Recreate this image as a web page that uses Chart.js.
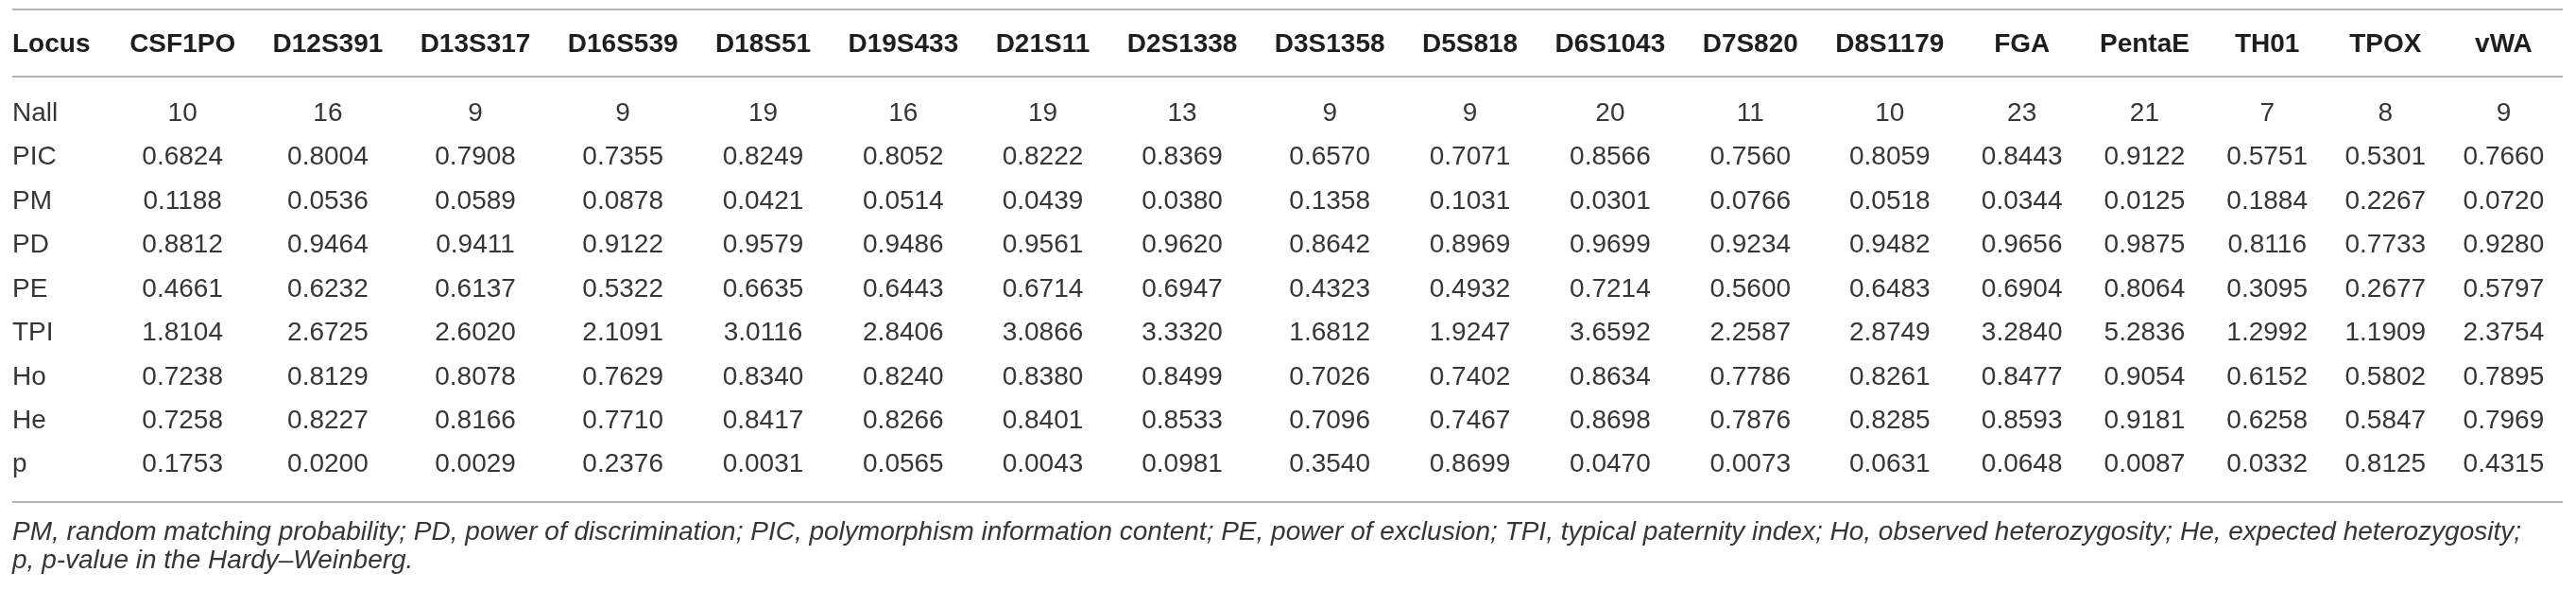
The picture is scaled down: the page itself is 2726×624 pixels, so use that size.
<!DOCTYPE html>
<html lang="en">
<head>
  <meta charset="UTF-8">
  <title>STR locus statistics</title>
  <script src="https://cdn.jsdelivr.net/npm/chart.js"></script>
</head>

<style>
  body {
    margin: 0;
    background: #ffffff;
  }

  .tabela {
    width: 2726px;
    height: 624px;
  }
</style>

<body>

  <div class="tabela">
    <canvas id="locusChart"></canvas>
  </div>

  <script>
    // Loci (columns) and statistics (rows)
    const loci = ['CSF1PO', 'D12S391', 'D13S317', 'D16S539', 'D18S51', 'D19S433', 'D21S11', 'D2S1338', 'D3S1358',
      'D5S818', 'D6S1043', 'D7S820', 'D8S1179', 'FGA', 'PentaE', 'TH01', 'TPOX', 'vWA'];
    const rowNames = ['Nall', 'PIC', 'PM', 'PD', 'PE', 'TPI', 'Ho', 'He', 'p'];

    const nall = [10, 16, 9, 9, 19, 16, 19, 13, 9, 9, 20, 11, 10, 23, 21, 7, 8, 9];
    const pic = [0.6824, 0.8004, 0.7908, 0.7355, 0.8249, 0.8052, 0.8222, 0.8369, 0.6570, 0.7071, 0.8566, 0.7560, 0.8059, 0.8443, 0.9122, 0.5751, 0.5301, 0.7660];
    const pm = [0.1188, 0.0536, 0.0589, 0.0878, 0.0421, 0.0514, 0.0439, 0.0380, 0.1358, 0.1031, 0.0301, 0.0766, 0.0518, 0.0344, 0.0125, 0.1884, 0.2267, 0.0720];
    const pd = [0.8812, 0.9464, 0.9411, 0.9122, 0.9579, 0.9486, 0.9561, 0.9620, 0.8642, 0.8969, 0.9699, 0.9234, 0.9482, 0.9656, 0.9875, 0.8116, 0.7733, 0.9280];
    const pe = [0.4661, 0.6232, 0.6137, 0.5322, 0.6635, 0.6443, 0.6714, 0.6947, 0.4323, 0.4932, 0.7214, 0.5600, 0.6483, 0.6904, 0.8064, 0.3095, 0.2677, 0.5797];
    const tpi = [1.8104, 2.6725, 2.6020, 2.1091, 3.0116, 2.8406, 3.0866, 3.3320, 1.6812, 1.9247, 3.6592, 2.2587, 2.8749, 3.2840, 5.2836, 1.2992, 1.1909, 2.3754];
    const ho = [0.7238, 0.8129, 0.8078, 0.7629, 0.8340, 0.8240, 0.8380, 0.8499, 0.7026, 0.7402, 0.8634, 0.7786, 0.8261, 0.8477, 0.9054, 0.6152, 0.5802, 0.7895];
    const he = [0.7258, 0.8227, 0.8166, 0.7710, 0.8417, 0.8266, 0.8401, 0.8533, 0.7096, 0.7467, 0.8698, 0.7876, 0.8285, 0.8593, 0.9181, 0.6258, 0.5847, 0.7969];
    const pValue = [0.1753, 0.0200, 0.0029, 0.2376, 0.0031, 0.0565, 0.0043, 0.0981, 0.3540, 0.8699, 0.0470, 0.0073, 0.0631, 0.0648, 0.0087, 0.0332, 0.8125, 0.4315];

    const rows = [nall, pic, pm, pd, pe, tpi, ho, he, pValue];

    const footnote = [
      'PM, random matching probability; PD, power of discrimination; PIC, polymorphism information content; PE, power of exclusion; TPI, typical paternity index; Ho, observed heterozygosity; He, expected heterozygosity;',
      'p, p-value in the Hardy\u2013Weinberg.'
    ];

    const FONT = '"Liberation Sans", Arial, Helvetica, sans-serif';
    const SIZE = 28;
    const corTexto = '#363636';
    const corCabecalho = '#1e1e1e';
    const corLinha = '#b4b4b4';

    function fmt(r, v) {
      return r === 0 ? String(v) : v.toFixed(4);
    }

    // Column widths as an auto table layout would do: widest text + padding
    const medidor = document.createElement('canvas').getContext('2d');
    function larguraTexto(txt, weight) {
      medidor.font = weight + ' ' + SIZE + 'px ' + FONT;
      return medidor.measureText(txt).width;
    }
    const colWidths = loci.map((l, j) => {
      let w = larguraTexto(l, 'bold');
      rows.forEach((vals, r) => { w = Math.max(w, larguraTexto(fmt(r, vals[j]), 'normal')); });
      return w + 40;
    });
    const locusWidth = larguraTexto('Locus', 'bold') + 22;

    // Category scale whose columns follow colWidths instead of equal steps
    class ColumnScale extends Chart.CategoryScale {
      getPixelForValue(value) {
        if (typeof value !== 'number') value = this.parse(value);
        if (value === null || value === undefined || isNaN(value)) return NaN;
        const total = colWidths.reduce((a, b) => a + b, 0);
        let acc = 0;
        for (let i = 0; i < value; i++) acc += colWidths[i];
        return this.left + (acc + colWidths[value] / 2) / total * this.width;
      }
    }
    ColumnScale.id = 'column';
    ColumnScale.defaults = Chart.CategoryScale.defaults;
    Chart.register(ColumnScale);

    // Rules, cell values, "Locus" header and footnote
    const tabelaPlugin = {
      id: 'tabela',
      beforeDraw(chart) {
        const ctx = chart.ctx;
        const area = chart.chartArea;
        const x0 = chart.scales.y.left;
        const x1 = area.right;
        const linhas = [chart.scales.x.top, area.top - 16, area.bottom + 16];
        ctx.save();
        ctx.strokeStyle = corLinha;
        ctx.lineWidth = 2;
        linhas.forEach(y => {
          ctx.beginPath();
          ctx.moveTo(x0, y);
          ctx.lineTo(x1, y);
          ctx.stroke();
        });
        ctx.restore();
      },
      afterDatasetsDraw(chart) {
        const ctx = chart.ctx;
        ctx.save();
        ctx.font = 'normal ' + SIZE + 'px ' + FONT;
        ctx.fillStyle = corTexto;
        ctx.textAlign = 'center';
        ctx.textBaseline = 'middle';
        chart.data.datasets.forEach((ds, r) => {
          const meta = chart.getDatasetMeta(r);
          meta.data.forEach((pt, j) => {
            ctx.fillText(fmt(r, ds.data[j].v), pt.x, pt.y);
          });
        });
        ctx.restore();
      },
      afterDraw(chart) {
        const ctx = chart.ctx;
        const xs = chart.scales.x;
        const left = chart.scales.y.left;
        const yHeader = xs.bottom - xs.options.ticks.padding - SIZE * 1.2 / 2;
        ctx.save();
        ctx.textAlign = 'left';
        ctx.textBaseline = 'middle';
        ctx.font = 'bold ' + SIZE + 'px ' + FONT;
        ctx.fillStyle = corCabecalho;
        ctx.fillText('Locus', left, yHeader);

        ctx.font = 'italic ' + SIZE + 'px ' + FONT;
        ctx.fillStyle = corTexto;
        const yBase = chart.chartArea.bottom + 16;
        ctx.fillText(footnote[0], left, yBase + 32);
        ctx.fillText(footnote[1], left, yBase + 62);
        ctx.restore();
      }
    };

    const ctx1 = document.getElementById('locusChart').getContext('2d');
    const chart1 = new Chart(ctx1, {
      type: 'scatter',
      data: {
        datasets: rows.map((vals, r) => ({
          label: rowNames[r],
          data: loci.map((l, j) => ({ x: l, y: rowNames[r], v: vals[j] })),
          pointRadius: 0,
          pointHoverRadius: 0
        }))
      },
      options: {
        responsive: true,
        maintainAspectRatio: false,
        animation: false,
        events: [],
        layout: {
          padding: { top: 10, left: 13, right: 14, bottom: 109 }
        },
        plugins: {
          legend: { display: false },
          tooltip: { enabled: false }
        },
        scales: {
          x: {
            type: 'column',
            position: 'top',
            labels: loci,
            offset: true,
            grid: { display: false, drawTicks: false },
            border: { display: false },
            ticks: {
              font: { family: FONT, size: SIZE, weight: 'bold' },
              color: corCabecalho,
              padding: 33,
              maxRotation: 0,
              autoSkip: false
            },
            afterFit: s => { s.height = 87; }
          },
          y: {
            type: 'category',
            labels: rowNames,
            offset: true,
            grid: { display: false, drawTicks: false },
            border: { display: false },
            ticks: {
              font: { family: FONT, size: SIZE },
              color: corTexto,
              crossAlign: 'far',
              padding: 0,
              autoSkip: false
            },
            afterFit: s => { s.width = locusWidth; }
          }
        }
      },
      plugins: [tabelaPlugin]
    });
  </script>
</body>
</html>
